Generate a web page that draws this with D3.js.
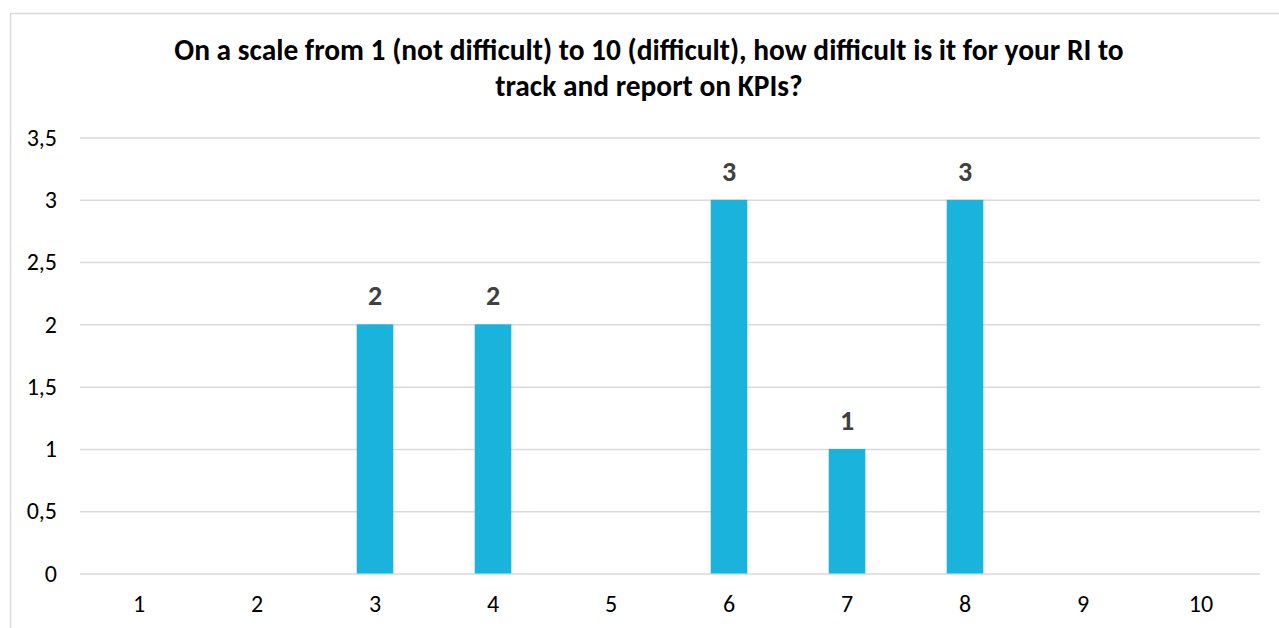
<!DOCTYPE html>
<html><head><meta charset="utf-8">
<script src="https://cdn.jsdelivr.net/npm/d3@7"></script>
<style>body{margin:0;background:#fff}svg{display:block}</style>
</head><body>
<script>
const categories = ["1","2","3","4","5","6","7","8","9","10"];
const values = [0,0,2,2,0,3,1,3,0,0];
const yTicks = [0,0.5,1,1.5,2,2.5,3,3.5];
const yTickLabels = ["0","0,5","1","1,5","2","2,5","3","3,5"];
const titleLines = ["On a scale from 1 (not difficult) to 10 (difficult), how difficult is it for your RI to","track and report on KPIs?"];

(function(){
const W=1279,H=628;
const font="Carlito, Calibri, 'Open Sans', Lato, sans-serif";
const svg=d3.select("body").append("svg").attr("width",W).attr("height",H);
svg.append("rect").attr("x",10.5).attr("y",13.5).attr("width",W).attr("height",H).attr("fill","#fff").attr("stroke","#d9d9d9").attr("stroke-width",1.5);

const pL=80,pR=1260,pT=137.5,pB=573.5;
const x=d3.scaleBand().domain(categories).range([pL,pR]).paddingInner(0.69).paddingOuter(0.345);
const y=d3.scaleLinear().domain([0,3.5]).range([pB,pT]);

const g=svg.append("g");
const yAxis=d3.axisLeft(y).tickValues(yTicks).tickFormat((d,i)=>yTickLabels[i]).tickSize(-(pR-pL)).tickPadding(23);
const ya=g.append("g").attr("transform",`translate(${pL},0)`).call(yAxis);
ya.attr("font-size",null).attr("font-family",null);
ya.select(".domain").remove();
ya.selectAll(".tick line").attr("stroke","#d9d9d9").attr("stroke-width",1.5);
ya.selectAll(".tick text").attr("fill","#000").attr("font-family",font).attr("font-size",24);

const xAxis=d3.axisBottom(x).tickSize(0).tickPadding(21);
const xa=g.append("g").attr("transform",`translate(0,${pB})`).call(xAxis);
xa.attr("font-size",null).attr("font-family",null);
xa.select(".domain").remove();
xa.selectAll(".tick text").attr("fill","#000").attr("font-family",font).attr("font-size",24);

const data=categories.map((c,i)=>({c,v:values[i]}));
g.selectAll("rect.bar").data(data.filter(d=>d.v>0)).join("rect").attr("class","bar")
 .attr("x",d=>x(d.c)).attr("width",x.bandwidth()).attr("y",d=>y(d.v)).attr("height",d=>y(0)-y(d.v)).attr("fill","#1ab3db");
g.selectAll("text.lbl").data(data.filter(d=>d.v>0)).join("text").attr("class","lbl")
 .attr("x",d=>x(d.c)+x.bandwidth()/2).attr("y",d=>y(d.v)-19).attr("text-anchor","middle")
 .attr("fill","#404040").attr("font-family",font).attr("font-weight","bold").attr("font-size",28).text(d=>d.v);

const t=svg.append("g");
const tl=t.selectAll("text").data(titleLines).join("text").attr("x",649).attr("y",(d,i)=>60+i*36).attr("text-anchor","middle")
 .attr("font-family",font).attr("font-weight","bold").attr("font-size",24).attr("fill","#000").text(d=>d);
const w=tl.nodes()[0].getComputedTextLength();
const fs=24*950/w;
tl.attr("font-size",fs);
})();
</script>
</body></html>
